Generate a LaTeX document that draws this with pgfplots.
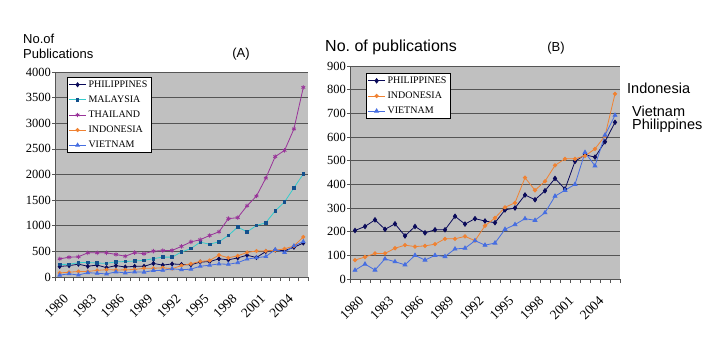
\documentclass[border=0pt]{standalone}
\usepackage{fontspec}
\setmainfont{Liberation Serif}
\newfontfamily\arial{Liberation Sans}
\usepackage{pgfplots}
\usepackage{pgfplotstable}
\pgfplotsset{compat=1.18}
\definecolor{philc}{RGB}{10,10,90}
\definecolor{malc}{RGB}{51,204,204}
\definecolor{malm}{RGB}{20,80,140}
\definecolor{thaic}{RGB}{153,51,153}
\definecolor{indoc}{RGB}{240,130,50}
\definecolor{vietc}{RGB}{70,110,225}
\definecolor{bgc}{RGB}{192,192,192}
\definecolor{gridc}{RGB}{85,85,85}
\pgfplotstableread{
year phil mal thai indo viet
1980 205 245 355 80 37
1981 222 248 385 93 63
1982 250 280 395 108 38
1983 210 283 472 108 85
1984 233 272 472 130 73
1985 182 268 472 143 60
1986 222 295 440 137 100
1987 195 302 405 140 80
1988 208 312 475 147 100
1989 208 325 455 170 95
1990 265 358 505 170 127
1991 232 388 515 180 130
1992 255 388 518 162 162
1993 245 488 598 225 143
1994 238 555 685 258 152
1995 292 680 728 303 210
1996 300 640 810 322 230
1997 355 688 882 428 255
1998 335 810 1138 375 248
1999 373 975 1158 413 280
2000 425 880 1390 480 350
2001 380 1005 1580 508 375
2002 497 1060 1930 508 400
2003 525 1290 2350 520 535
2004 515 1465 2470 550 478
2005 580 1740 2890 605 608
2006 662 2010 3700 782 692
}\datatable
\pgfplotsset{
  excelstyle/.style={
    scale only axis,
    anchor=south west,
    xmin=1979.5, xmax=2006.5,
    ymin=0,
    axis background/.style={fill=bgc},
    axis lines*=left,
    axis line style={gridc, line width=0.6pt},
    ymajorgrids,
    major grid style={gridc, line width=0.6pt},
    xtick={1980,1983,1986,1989,1992,1995,1998,2001,2004},
    xticklabels={1980,1983,1986,1989,1992,1995,1998,2001,2004},
    minor xtick={1979.5,1980.5,...,2006.5},
    xtick style={draw=none},
    minor x tick style={draw=gridc, line width=0.6pt},
    tick align=outside,
    minor tick length=4pt,
    major tick length=3pt,
    ytick style={draw=gridc, line width=0.6pt},
    tick label style={font=\rmfamily\fontsize{12.5}{13}\selectfont},
    xticklabel style={font=\rmfamily\fontsize{13.5}{14}\selectfont, xshift=3pt, yshift=-13pt, rotate=45, anchor=north east, inner sep=0pt},
    yticklabel style={/pgf/number format/assume math mode=true, /pgf/number format/1000 sep={}, inner sep=1pt},
    every axis plot/.append style={line width=0.8pt},
    legend cell align=left,
    legend style={draw=black, fill=white, line width=0.5pt, font=\rmfamily\fontsize{10}{11}\selectfont,
      inner sep=1.5pt, row sep=3pt, anchor=north west},
  },
}
\begin{document}
\begin{tikzpicture}[x=1pt,y=1pt]
\useasboundingbox (0,0) rectangle (720,360);
% Panel A
\begin{axis}[excelstyle, at={(55pt,83pt)}, width=253pt, height=205pt,
  ymax=4000, ytick={0,500,...,4000},
  legend style={at={(0.047,0.976)}}]
\addplot[philc, mark=diamond*, mark size=2pt, mark options={fill=philc}] table[x=year,y=phil]{\datatable};
\addlegendentry{PHILIPPINES}
\addplot[malc, mark=square*, mark size=1.3pt, mark options={draw=malm, fill=malm}] table[x=year,y=mal]{\datatable};
\addlegendentry{MALAYSIA}
\addplot[thaic, mark=asterisk, mark size=2.2pt, mark options={thaic}] table[x=year,y=thai]{\datatable};
\addlegendentry{THAILAND}
\addplot[indoc, mark=*, mark size=1.6pt, mark options={fill=indoc}] table[x=year,y=indo]{\datatable};
\addlegendentry{INDONESIA}
\addplot[vietc, mark=triangle*, mark size=2pt, mark options={fill=vietc}] table[x=year,y=viet]{\datatable};
\addlegendentry{VIETNAM}
\end{axis}
% Panel B
\begin{axis}[excelstyle, at={(350pt,81pt)}, width=270pt, height=213pt,
  ymax=900, ytick={0,100,...,900},
  legend style={at={(0.059,0.967)}}]
\addplot[philc, mark=diamond*, mark size=2.2pt, mark options={fill=philc}] table[x=year,y=phil]{\datatable};
\addlegendentry{PHILIPPINES}
\addplot[indoc, mark=*, mark size=1.7pt, mark options={fill=indoc}] table[x=year,y=indo]{\datatable};
\addlegendentry{INDONESIA}
\addplot[vietc, mark=triangle*, mark size=2.2pt, mark options={fill=vietc}] table[x=year,y=viet]{\datatable};
\addlegendentry{VIETNAM}
\end{axis}
% Titles
\node[anchor=north west, inner sep=0pt, align=left, font=\arial\fontsize{13}{15}\selectfont] at (23,326) {No.of\\Publications};
\node[inner sep=0pt, font=\arial\fontsize{13}{15}\selectfont] at (241,306) {(A)};
\node[anchor=west, inner sep=0pt, font=\arial\fontsize{16}{18}\selectfont] at (325,313) {No.\ of publications};
\node[inner sep=0pt, font=\arial\fontsize{13}{15}\selectfont] at (556,312) {(B)};
\node[anchor=base west, inner sep=0pt, font=\arial\fontsize{14.5}{16}\selectfont] at (627,267) {Indonesia};
\node[anchor=base west, inner sep=0pt, font=\arial\fontsize{14.5}{16}\selectfont] at (632,244) {Vietnam};
\node[anchor=base west, inner sep=0pt, font=\arial\fontsize{14.5}{16}\selectfont] at (632,231) {Philippines};
\end{tikzpicture}
\end{document}
